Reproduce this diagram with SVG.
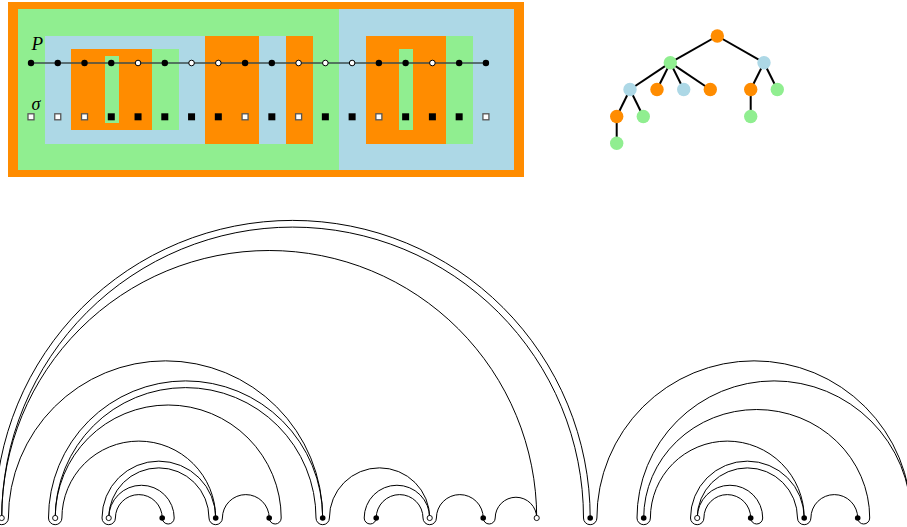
<svg xmlns="http://www.w3.org/2000/svg" width="907" height="527" viewBox="0 0 907 527">
<style>
.o{fill:#FF8C00}.g{fill:#90EE90}.b{fill:#ADD8E6}
.pb{fill:#000}.pw{fill:#fff;stroke:#000;stroke-width:1}
.sb{fill:#000}.sw{fill:#fff;stroke:#555;stroke-width:1.3}
.lbl{font-family:"Liberation Serif","DejaVu Serif",serif;font-style:italic;fill:#000}
.te{stroke:#000;stroke-width:2;fill:none}
.arc{fill:none;stroke:#000;stroke-width:1}
.db{fill:#000}.dw{fill:#fff;stroke:#000;stroke-width:0.9}
</style>
<g id="panel">
<rect x="8" y="2" width="516" height="175" class="o"/>
<rect x="18" y="9" width="321" height="161" class="g"/>
<rect x="339" y="9" width="175" height="161" class="b"/>
<rect x="45" y="36" width="160" height="108" class="b"/>
<rect x="205" y="36" width="54" height="108" class="o"/>
<rect x="259" y="36" width="27" height="108" class="b"/>
<rect x="286" y="36" width="27" height="108" class="o"/>
<rect x="71" y="49" width="81" height="81" class="o"/>
<rect x="152" y="49" width="27" height="81" class="g"/>
<rect x="105" y="56" width="14" height="67" class="g"/>
<rect x="366" y="36" width="80" height="108" class="o"/>
<rect x="446" y="36" width="27" height="108" class="g"/>
<rect x="399" y="49" width="14" height="81" class="g"/>
<line x1="31" y1="63" x2="486" y2="63" stroke="#3d4d4d" stroke-width="1.6"/>
<text x="31.5" y="50" class="lbl" font-size="19">P</text>
<text x="31.5" y="110" class="lbl" font-size="18">σ</text>
<g id="P">
<circle cx="31" cy="63" r="3.2" class="pb"/>
<circle cx="57.76" cy="63" r="3.2" class="pb"/>
<circle cx="84.52" cy="63" r="3.2" class="pb"/>
<circle cx="111.28" cy="63" r="3.2" class="pb"/>
<circle cx="138.04" cy="63" r="2.8" class="pw"/>
<circle cx="164.8" cy="63" r="3.2" class="pb"/>
<circle cx="191.56" cy="63" r="2.8" class="pw"/>
<circle cx="218.32" cy="63" r="2.8" class="pw"/>
<circle cx="245.08" cy="63" r="3.2" class="pb"/>
<circle cx="271.84" cy="63" r="3.2" class="pb"/>
<circle cx="298.6" cy="63" r="2.8" class="pw"/>
<circle cx="325.36" cy="63" r="2.8" class="pw"/>
<circle cx="352.12" cy="63" r="2.8" class="pw"/>
<circle cx="378.88" cy="63" r="3.2" class="pb"/>
<circle cx="405.64" cy="63" r="3.2" class="pb"/>
<circle cx="432.4" cy="63" r="2.8" class="pw"/>
<circle cx="459.16" cy="63" r="3.2" class="pb"/>
<circle cx="485.92" cy="63" r="3.2" class="pb"/>
</g>
<g id="sigma">
<rect x="28" y="113.8" width="6" height="6" class="sw"/>
<rect x="54.76" y="113.8" width="6" height="6" class="sw"/>
<rect x="81.52" y="113.8" width="6" height="6" class="sw"/>
<rect x="107.78" y="113.3" width="7" height="7" class="sb"/>
<rect x="134.54" y="113.3" width="7" height="7" class="sb"/>
<rect x="161.3" y="113.3" width="7" height="7" class="sb"/>
<rect x="188.06" y="113.3" width="7" height="7" class="sb"/>
<rect x="214.82" y="113.3" width="7" height="7" class="sb"/>
<rect x="242.08" y="113.8" width="6" height="6" class="sw"/>
<rect x="268.34" y="113.3" width="7" height="7" class="sb"/>
<rect x="295.6" y="113.8" width="6" height="6" class="sw"/>
<rect x="321.86" y="113.3" width="7" height="7" class="sb"/>
<rect x="348.62" y="113.3" width="7" height="7" class="sb"/>
<rect x="375.88" y="113.8" width="6" height="6" class="sw"/>
<rect x="402.14" y="113.3" width="7" height="7" class="sb"/>
<rect x="428.9" y="113.3" width="7" height="7" class="sb"/>
<rect x="455.66" y="113.3" width="7" height="7" class="sb"/>
<rect x="482.92" y="113.8" width="6" height="6" class="sw"/>
</g>
</g>
<g id="tree-edges">
<line x1="717.3" y1="36" x2="670.3" y2="62.7" class="te"/>
<line x1="717.3" y1="36" x2="764" y2="62.7" class="te"/>
<line x1="670.3" y1="62.7" x2="630" y2="89.5" class="te"/>
<line x1="670.3" y1="62.7" x2="657" y2="89.5" class="te"/>
<line x1="670.3" y1="62.7" x2="683.7" y2="89.5" class="te"/>
<line x1="670.3" y1="62.7" x2="710.3" y2="89.5" class="te"/>
<line x1="764" y1="62.7" x2="750.7" y2="89.5" class="te"/>
<line x1="764" y1="62.7" x2="777.3" y2="89.5" class="te"/>
<line x1="630" y1="89.5" x2="616.7" y2="116.5" class="te"/>
<line x1="630" y1="89.5" x2="643.3" y2="116.5" class="te"/>
<line x1="616.7" y1="116.5" x2="616.7" y2="143.3" class="te"/>
<line x1="750.7" y1="89.5" x2="750.7" y2="116.5" class="te"/>
</g>
<g id="t-root"><circle cx="717.3" cy="36" r="6.7" class="o"/></g>
<g id="t-g1"><circle cx="670.3" cy="62.7" r="6.7" class="g"/></g>
<g id="t-b1"><circle cx="764" cy="62.7" r="6.7" class="b"/></g>
<g id="t-b2"><circle cx="630" cy="89.5" r="6.7" class="b"/></g>
<g id="t-o2"><circle cx="657" cy="89.5" r="6.7" class="o"/></g>
<g id="t-b3"><circle cx="683.7" cy="89.5" r="6.7" class="b"/></g>
<g id="t-o3"><circle cx="710.3" cy="89.5" r="6.7" class="o"/></g>
<g id="t-o4"><circle cx="750.7" cy="89.5" r="6.7" class="o"/></g>
<g id="t-g2"><circle cx="777.3" cy="89.5" r="6.7" class="g"/></g>
<g id="t-o5"><circle cx="616.7" cy="116.5" r="6.7" class="o"/></g>
<g id="t-g3"><circle cx="643.3" cy="116.5" r="6.7" class="g"/></g>
<g id="t-g4"><circle cx="750.7" cy="116.5" r="6.7" class="g"/></g>
<g id="t-g5"><circle cx="616.7" cy="143.3" r="6.7" class="g"/></g>
<g id="arcs">
<path class="arc" d="M322.7 518A157.15 157.15 0 0 0 8.4 518A6.7 6.7 0 0 1 -5 518A297.6 297.6 0 0 1 590.2 518"/>
<path class="arc" d="M1.7 518A290.9 290.9 0 0 1 583.5 518A6.7 6.7 0 0 0 596.9 518A157.15 157.15 0 0 1 911.2 518"/>
<path class="arc" d="M1.7 518A267.5 267.5 0 0 1 536.7 518"/>
<path class="arc" d="M322.7 518A137.1 137.1 0 0 0 48.5 518A6.7 6.7 0 0 0 61.9 518A76.9 76.9 0 0 1 215.7 518"/>
<path class="arc" d="M55.2 518A130.4 130.4 0 0 1 316 518A6.7 6.7 0 0 0 329.4 518A50.15 50.15 0 0 1 429.7 518"/>
<path class="arc" d="M55.2 518A113 113 0 0 1 281.2 518A6 6 0 0 1 269.2 518"/>
<path class="arc" d="M215.7 518A56.85 56.85 0 0 0 102 518A6.7 6.7 0 0 0 115.4 518A23.4 23.4 0 0 1 162.2 518"/>
<path class="arc" d="M108.7 518A50.15 50.15 0 0 1 209 518A6.7 6.7 0 0 0 222.4 518A23.4 23.4 0 0 1 269.2 518"/>
<path class="arc" d="M108.7 518A32.75 32.75 0 0 1 174.2 518A6 6 0 0 1 162.2 518"/>
<path class="arc" d="M376.2 518A23.4 23.4 0 0 1 423 518A6.7 6.7 0 0 0 436.4 518A23.4 23.4 0 0 1 483.2 518"/>
<path class="arc" d="M429.7 518A32.75 32.75 0 0 0 364.2 518A6 6 0 0 0 376.2 518"/>
<path class="arc" d="M536.7 518A20.75 20.75 0 0 0 495.2 518A6 6 0 0 1 483.2 518"/>
<path class="arc" d="M911.2 518A137.1 137.1 0 0 0 637 518A6.7 6.7 0 0 0 650.4 518A76.9 76.9 0 0 1 804.2 518"/>
<path class="arc" d="M643.7 518A113 108.5 0 0 1 869.7 518A6 6 0 0 1 857.7 518"/>
<path class="arc" d="M804.2 518A56.85 56.85 0 0 0 690.5 518A6.7 6.7 0 0 0 703.9 518A23.4 23.4 0 0 1 750.7 518"/>
<path class="arc" d="M697.2 518A50.15 50.15 0 0 1 797.5 518A6.7 6.7 0 0 0 810.9 518A23.4 23.4 0 0 1 857.7 518"/>
<path class="arc" d="M697.2 518A32.75 32.75 0 0 1 762.7 518A6 6 0 0 1 750.7 518"/>
</g>
<g id="v0"><circle cx="1.7" cy="518" r="2.6" class="dw"/></g>
<g id="v1"><circle cx="55.2" cy="518" r="2.6" class="dw"/></g>
<g id="v2"><circle cx="108.7" cy="518" r="2.6" class="dw"/></g>
<g id="v3"><circle cx="162.2" cy="518" r="2.8" class="db"/></g>
<g id="v4"><circle cx="215.7" cy="518" r="2.8" class="db"/></g>
<g id="v5"><circle cx="269.2" cy="518" r="2.8" class="db"/></g>
<g id="v6"><circle cx="322.7" cy="518" r="2.8" class="db"/></g>
<g id="v7"><circle cx="376.2" cy="518" r="2.8" class="db"/></g>
<g id="v8"><circle cx="429.7" cy="518" r="2.6" class="dw"/></g>
<g id="v9"><circle cx="483.2" cy="518" r="2.8" class="db"/></g>
<g id="v10"><circle cx="536.7" cy="518" r="2.6" class="dw"/></g>
<g id="v11"><circle cx="590.2" cy="518" r="2.8" class="db"/></g>
<g id="v12"><circle cx="643.7" cy="518" r="2.8" class="db"/></g>
<g id="v13"><circle cx="697.2" cy="518" r="2.6" class="dw"/></g>
<g id="v14"><circle cx="750.7" cy="518" r="2.8" class="db"/></g>
<g id="v15"><circle cx="804.2" cy="518" r="2.8" class="db"/></g>
<g id="v16"><circle cx="857.7" cy="518" r="2.8" class="db"/></g>
</svg>
